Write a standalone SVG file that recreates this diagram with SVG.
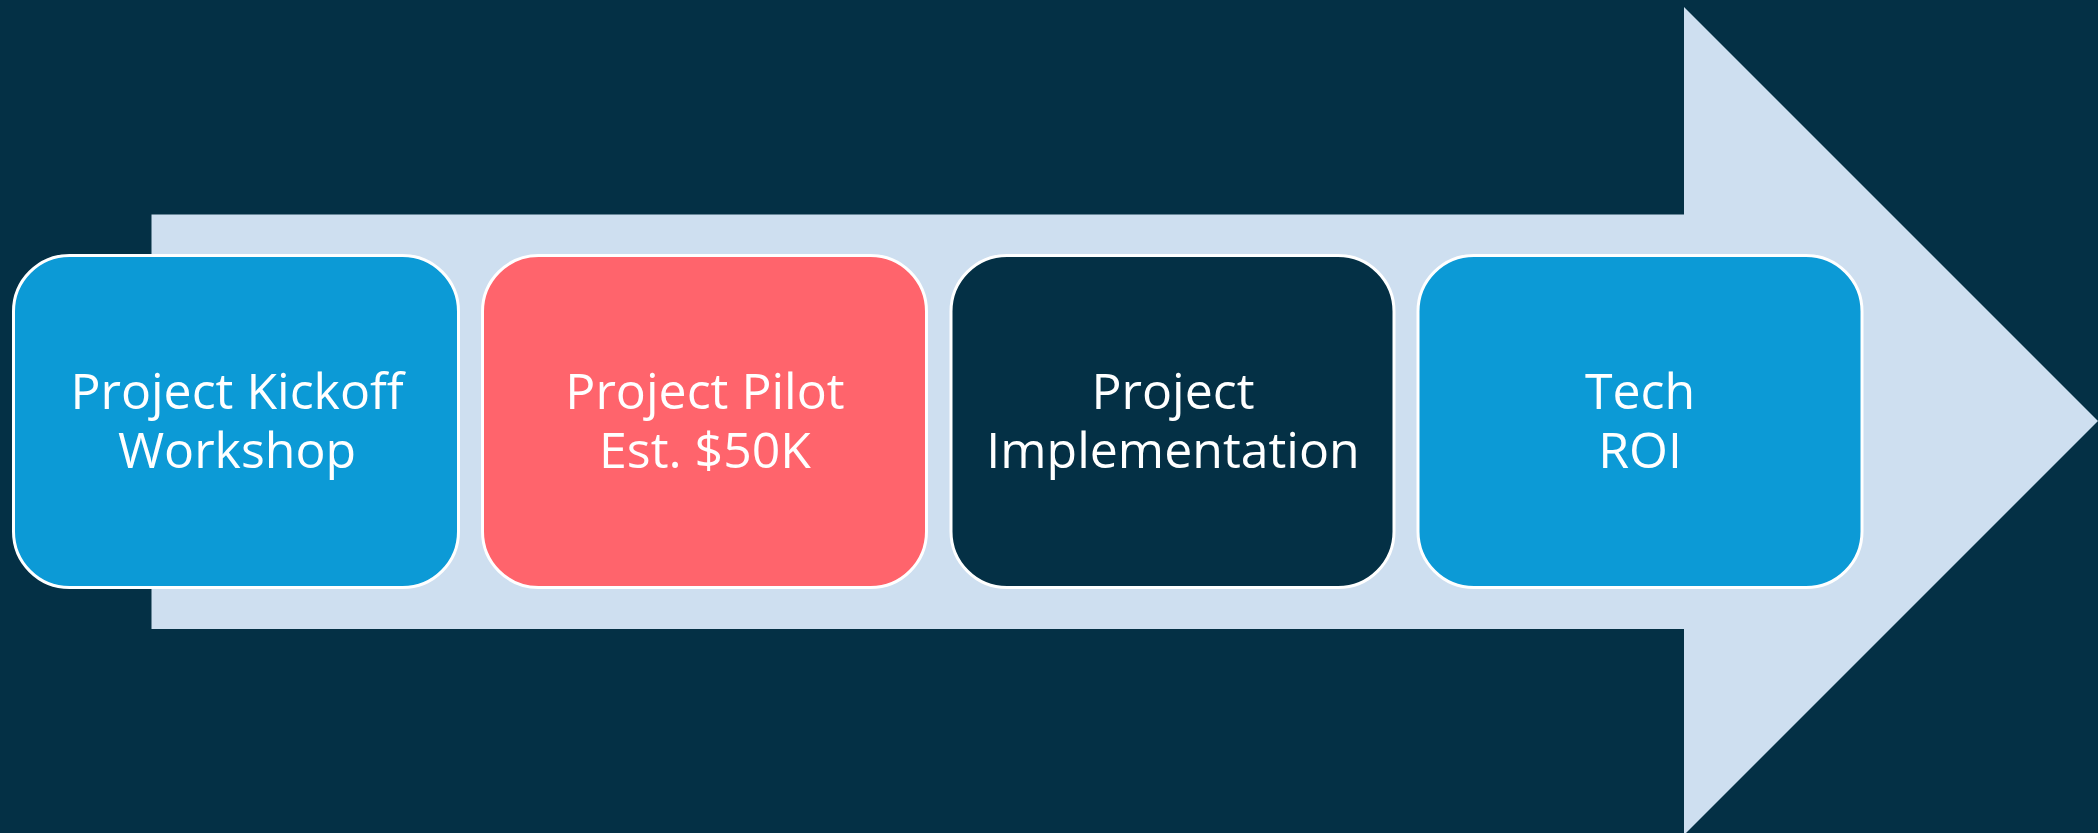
<svg xmlns="http://www.w3.org/2000/svg" width="2098" height="833" viewBox="0 0 2098 833">
<style>
.box{stroke:#ffffff;stroke-width:3}
.t{font-family:"Open Sans","Noto Sans",sans-serif;font-size:50px;fill:#ffffff;text-anchor:middle}
</style>
<rect x="0" y="0" width="2098" height="833" fill="#043045"/>
<g id="arrow">
<polygon points="151.5,214.5 1684,214.5 1684,7 2098,421 1684,835 1684,629 151.5,629" fill="#CEDFF0"/>
</g>
<g id="connectors"></g>
<g id="node1">
<rect class="box" x="13.5" y="255.5" width="445" height="332" rx="56" fill="#0C9AD6"/>
<text class="t" x="237" y="409">Project Kickoff</text>
<text class="t" x="237" y="468">Workshop</text>
</g>
<g id="node2">
<rect class="box" x="482.5" y="255.5" width="444" height="332" rx="56" fill="#FF646C"/>
<text class="t" x="705" y="409">Project Pilot</text>
<text class="t" x="705" y="468">Est. $50K</text>
</g>
<g id="node3">
<rect class="box" x="951" y="255.5" width="443" height="332" rx="56" fill="#043045"/>
<text class="t" x="1173" y="409">Project</text>
<text class="t" x="1173" y="468">Implementation</text>
</g>
<g id="node4">
<rect class="box" x="1418" y="255.5" width="444" height="332" rx="56" fill="#0C9AD6"/>
<text class="t" x="1640" y="409">Tech</text>
<text class="t" x="1640" y="468">ROI</text>
</g>
</svg>
